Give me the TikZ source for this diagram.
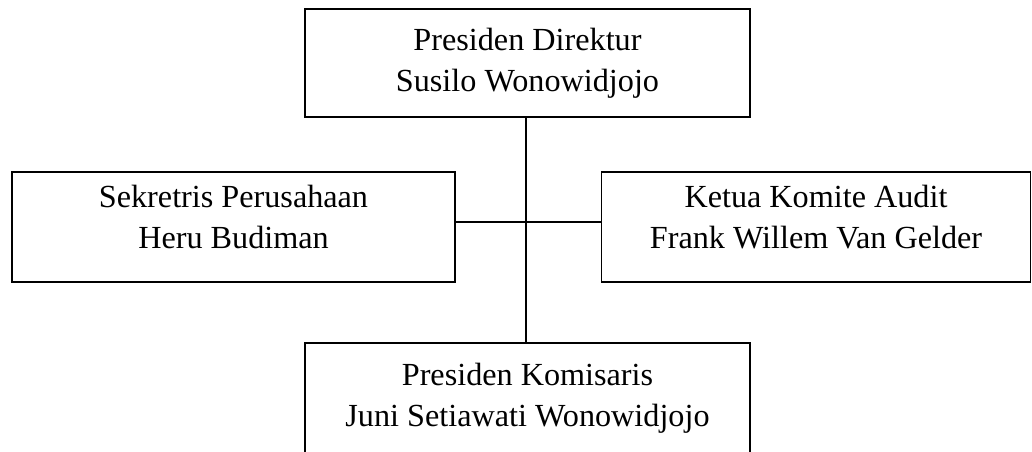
\documentclass[tikz,border=0pt]{standalone}
\usepackage{fontspec}
\setmainfont{Liberation Serif}
\begin{document}
\begin{tikzpicture}[x=1pt,y=-1pt,
  orgbox/.style={draw, line width=1.6pt, inner sep=0pt, align=center,
    font=\fontsize{32.2}{41}\selectfont},
  link/.style={line width=1.6pt}]
  \useasboundingbox (0,0) rectangle (1032,451);
  % boxes of the chart
  \node[orgbox, minimum width=445, minimum height=108] (dir) at (527.5,63)
    {Presiden Direktur\\Susilo Wonowidjojo};
  \node[orgbox, minimum width=443, minimum height=110, text depth=20pt] (sek) at (233.5,227)
    {Sekretris Perusahaan\\Heru Budiman};
  \node[orgbox, minimum width=429, minimum height=110, text depth=20pt] (aud) at (816,227)
    {Ketua Komite Audit\\Frank Willem Van Gelder};
  \node[orgbox, minimum width=445, minimum height=110] (kom) at (527.5,398)
    {Presiden Komisaris\\Juni Setiawati Wonowidjojo};
  % connecting lines
  \coordinate (hub) at (526,222);
  \draw[link] (dir.south -| hub) -- (kom.north -| hub);
  \draw[link] (sek.east |- hub) -- (aud.west |- hub);
\end{tikzpicture}
\end{document}
